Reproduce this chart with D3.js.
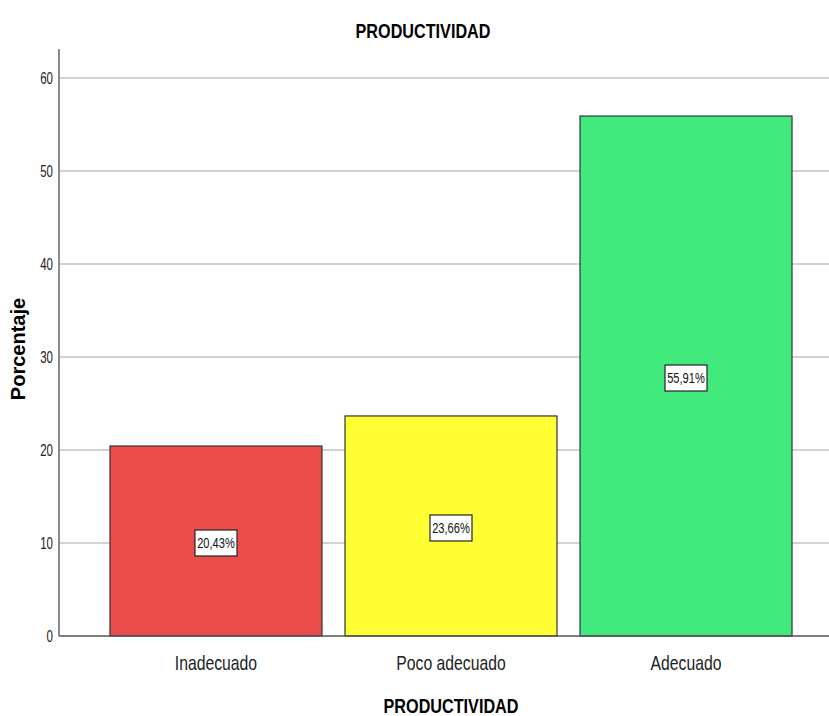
<!DOCTYPE html>
<html>
<head>
<meta charset="utf-8">
<script src="https://cdn.jsdelivr.net/npm/d3@7"></script>
<style>
  html, body { margin: 0; padding: 0; background: #fff; }
  svg { display: block; }
</style>
</head>
<body>
<svg id="chart" width="829" height="716"></svg>
<script>
const categories = ["Inadecuado", "Poco adecuado", "Adecuado"];
const values = [20.43, 23.66, 55.91];
const valueLabels = ["20,43%", "23,66%", "55,91%"];
const colors = ["#eb4c4c", "#ffff33", "#42ea7e"];
const yTicks = [0, 10, 20, 30, 40, 50, 60];
const title = "PRODUCTIVIDAD";
const xTitle = "PRODUCTIVIDAD";
const yTitle = "Porcentaje";

const svg = d3.select("#chart");
const sans = "'Liberation Sans', Arial, sans-serif";

const axisX = 59, plotRight = 829, plotTop = 49;
const y = d3.scaleLinear().domain([0, 60]).range([636, 78]);
const x = d3.scaleBand().domain(categories).range([59, 843])
  .paddingInner(0.098).paddingOuter(0.217);

// narrow text helper: Liberation Sans squeezed horizontally (Arial Narrow look)
function narrowText(sel, sx) {
  return sel.attr("font-family", sans)
    .attr("transform", function() {
      const px = +this.getAttribute("data-x"), py = +this.getAttribute("data-y");
      return `translate(${px},${py}) scale(${sx},1)`;
    });
}

// gridlines
svg.append("g").selectAll("line").data(yTicks.filter(d => d > 0)).join("line")
  .attr("x1", axisX).attr("x2", plotRight)
  .attr("y1", d => y(d)).attr("y2", d => y(d))
  .attr("stroke", "#d2d2d2").attr("stroke-width", 2);

// bars
svg.append("g").selectAll("rect").data(values).join("rect")
  .attr("x", (d, i) => x(categories[i]))
  .attr("y", d => y(d))
  .attr("width", x.bandwidth())
  .attr("height", d => y(0) - y(d))
  .attr("fill", (d, i) => colors[i])
  .attr("stroke", "#333").attr("stroke-width", 1.2);

// axes lines
svg.append("line").attr("x1", axisX).attr("x2", axisX)
  .attr("y1", plotTop).attr("y2", y(0))
  .attr("stroke", "#8a8a8a").attr("stroke-width", 2);
svg.append("line").attr("x1", axisX).attr("x2", plotRight)
  .attr("y1", y(0)).attr("y2", y(0))
  .attr("stroke", "#555").attr("stroke-width", 1.5);

// y tick labels
svg.append("g").selectAll("text").data(yTicks).join("text")
  .attr("data-x", 53).attr("data-y", d => y(d))
  .attr("dy", "0.36em")
  .attr("text-anchor", "end")
  .attr("font-size", 16)
  .attr("fill", "#222")
  .text(d => d)
  .call(narrowText, 0.72);

// x category labels
svg.append("g").selectAll("text").data(categories).join("text")
  .attr("data-x", d => x(d) + x.bandwidth() / 2).attr("data-y", 670)
  .attr("text-anchor", "middle")
  .attr("font-size", 21)
  .attr("fill", "#222")
  .text(d => d)
  .call(narrowText, 0.75);

// value labels
const lg = svg.append("g").selectAll("g").data(values).join("g")
  .attr("transform", (d, i) => `translate(${x(categories[i]) + x.bandwidth() / 2},${y(d / 2) + 2})`);
lg.append("rect")
  .attr("x", -21).attr("y", -13).attr("width", 42).attr("height", 26)
  .attr("fill", "#fff").attr("stroke", "#222").attr("stroke-width", 1.2);
lg.append("text")
  .attr("data-x", 0).attr("data-y", 0)
  .attr("text-anchor", "middle").attr("dy", "0.36em")
  .attr("font-size", 15)
  .attr("fill", "#111")
  .text((d, i) => valueLabels[i])
  .call(narrowText, 0.74);

// titles
svg.append("text").attr("data-x", 423).attr("data-y", 38)
  .attr("text-anchor", "middle")
  .attr("font-weight", "bold").attr("font-size", 20)
  .attr("fill", "#000").text(title)
  .call(narrowText, 0.81);
svg.append("text").attr("data-x", 451).attr("data-y", 713)
  .attr("text-anchor", "middle")
  .attr("font-weight", "bold").attr("font-size", 20)
  .attr("fill", "#000").text(xTitle)
  .call(narrowText, 0.81);
svg.append("text")
  .attr("transform", "translate(25,349) rotate(-90)")
  .attr("text-anchor", "middle")
  .attr("font-family", sans).attr("font-weight", "bold").attr("font-size", 20)
  .attr("fill", "#000").text(yTitle);
</script>
</body>
</html>
